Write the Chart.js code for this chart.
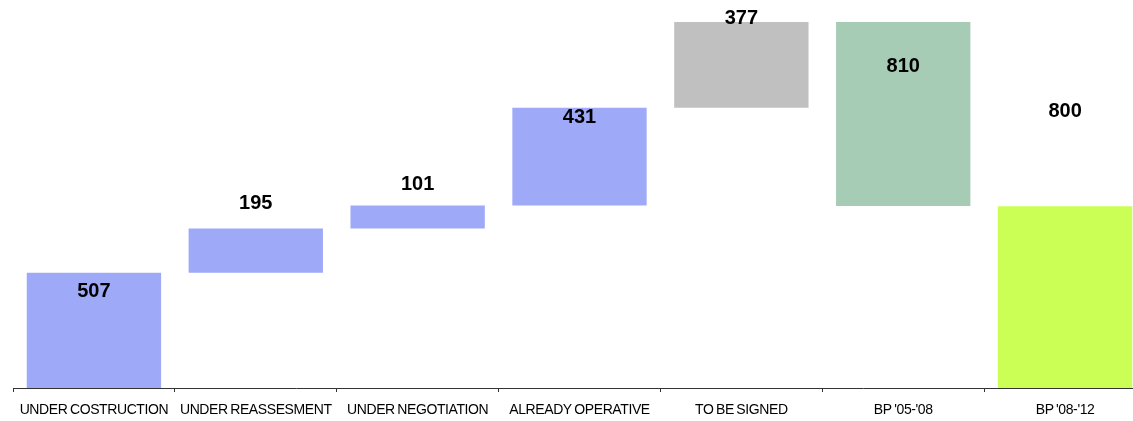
<!DOCTYPE html>
<html>
<head>
<meta charset="utf-8">
<script src="https://cdn.jsdelivr.net/npm/chart.js@4"></script>
<style>
  html, body { margin: 0; padding: 0; background: #fff; overflow: hidden; }
  #wrap { width: 1133px; height: 421px; overflow: hidden; }
  canvas { display: block; }
</style>
</head>
<body>
<div id="wrap"><canvas id="chart" width="1146" height="421"></canvas></div>
<script>
// --- data ---
const categories = ['UNDER COSTRUCTION', 'UNDER REASSESMENT', 'UNDER NEGOTIATION', 'ALREADY OPERATIVE', 'TO BE SIGNED', "BP '05-'08", "BP '08-'12"];
const values = [507, 195, 101, 431, 377, 810, 800];
// where each bar starts (running total for the steps, totals sit on their own base)
const bases = [0, 507, 702, 803, 1234, 801, 0];

// --- styling ---
const barColors = ['#9eaaf8', '#9eaaf8', '#9eaaf8', '#9eaaf8', '#c0c0c0', '#a7ccb5', '#ccff55'];
// vertical shift of each value label from the bar top, in px
const labelShift = [19, -25, -21, 10, -4, 44, -95];

const floating = values.map((v, i) => [bases[i], bases[i] + v]);

// tight category text on the axis, normal spacing for the value labels
const tightText = {
    id: 'tightText',
    beforeDraw(chart) {
        chart.ctx.letterSpacing = '-0.4px';
        chart.ctx.wordSpacing = '-1px';
    },
    beforeDatasetsDraw(chart) {
        chart.ctx.letterSpacing = '0px';
        chart.ctx.wordSpacing = '0px';
    }
};

const valueLabels = {
    id: 'valueLabels',
    afterDatasetsDraw(chart) {
        const ctx = chart.ctx;
        const meta = chart.getDatasetMeta(0);
        ctx.save();
        ctx.font = 'bold 20px "Liberation Sans", Arial, sans-serif';
        ctx.fillStyle = '#000';
        ctx.textAlign = 'center';
        ctx.textBaseline = 'middle';
        meta.data.forEach((bar, i) => {
            const top = Math.min(bar.y, bar.base);
            ctx.fillText(String(values[i]), bar.x, top + labelShift[i]);
        });
        ctx.restore();
    }
};

new Chart(document.getElementById('chart'), {
    type: 'bar',
    data: {
        labels: categories,
        datasets: [{
            data: floating,
            backgroundColor: barColors,
            borderWidth: 0,
            barPercentage: 0.83,
            categoryPercentage: 1
        }]
    },
    options: {
        responsive: false,
        animation: false,
        layout: { padding: { left: 13, right: 0, top: 0, bottom: 0 } },
        plugins: {
            legend: { display: false },
            tooltip: { enabled: false }
        },
        scales: {
            x: {
                grid: {
                    drawOnChartArea: false,
                    drawTicks: true,
                    tickLength: 4,
                    color: '#333'
                },
                border: { display: true, color: '#333', width: 1 },
                ticks: {
                    color: '#000',
                    padding: 10,
                    maxRotation: 0,
                    autoSkip: false,
                    font: { family: '"Liberation Sans", Arial, sans-serif', size: 14 }
                },
                afterFit(scale) { scale.height = 33; }
            },
            y: {
                display: false,
                min: 0,
                max: 1708
            }
        }
    },
    plugins: [tightText, valueLabels]
});
</script>
</body>
</html>
